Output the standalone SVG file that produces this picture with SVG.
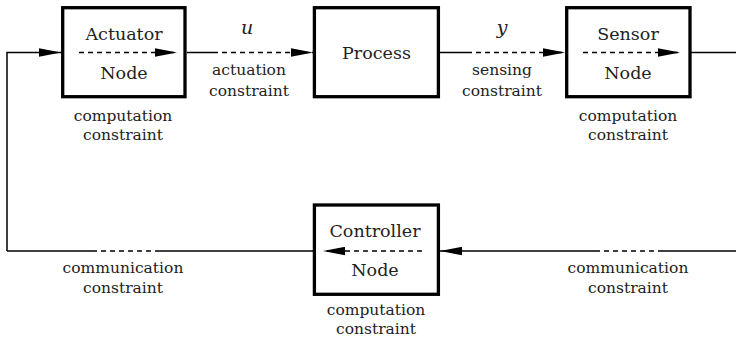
<svg xmlns="http://www.w3.org/2000/svg" width="736" height="343" viewBox="0 0 736 343" font-family="'DejaVu Serif', 'Liberation Serif', serif">
<style>
.box{fill:#fff;stroke:#000;stroke-width:3.3}
.ln{fill:none;stroke:#000;stroke-width:1.5}
.ds{fill:none;stroke:#000;stroke-width:1.5;stroke-dasharray:5 4}
.lb{font-size:17.5px;fill:#222;text-anchor:middle}
.sm{font-size:15.5px;fill:#222;text-anchor:middle}
.it{font-size:19px;font-style:italic;fill:#222;text-anchor:middle}
</style>
<defs>
<marker id="ah" viewBox="0 0 22 9" refX="22" refY="4.5" markerWidth="22" markerHeight="9" markerUnits="userSpaceOnUse" orient="auto">
<path d="M0,0.3 L22,4.5 L0,8.7 z" fill="#000"/>
</marker>
</defs>
<rect width="736" height="343" fill="#fff"/>
<g id="connectors">
<path class="ln" d="M7,251 L7,52.5 L61,52.5" marker-end="url(#ah)"/>
<path class="ln" d="M187,52.5 L213,52.5"/>
<path class="ds" d="M213,52.5 L313,52.5" marker-end="url(#ah)"/>
<path class="ln" d="M440,52.5 L467,52.5"/>
<path class="ds" d="M467,52.5 L565,52.5" marker-end="url(#ah)"/>
<path class="ln" d="M691,52.5 L736,52.5"/>
<path class="ln" d="M736,251 L663,251"/>
<path class="ds" d="M663,251 L597,251"/>
<path class="ln" d="M597,251 L440,251" marker-end="url(#ah)"/>
<path class="ln" d="M313,251 L160,251"/>
<path class="ds" d="M160,251 L92,251"/>
<path class="ln" d="M92,251 L7,251"/>
<text class="it" x="247" y="34">u</text>
<text class="sm" x="249" y="75">actuation</text>
<text class="sm" x="249" y="95.5">constraint</text>
<text class="it" x="502" y="34">y</text>
<text class="sm" x="502" y="75">sensing</text>
<text class="sm" x="502" y="95.5">constraint</text>
<text class="sm" x="123" y="272.5">communication</text>
<text class="sm" x="123" y="293">constraint</text>
<text class="sm" x="628" y="272.5">communication</text>
<text class="sm" x="628" y="293">constraint</text>
</g>
<g id="actuator">
<rect class="box" x="62.7" y="7.7" width="122.3" height="89"/>
<text class="lb" x="124" y="40">Actuator</text>
<path class="ds" d="M79,52.5 L177,52.5" marker-end="url(#ah)"/>
<text class="lb" x="124" y="79">Node</text>
<text class="sm" x="123" y="121">computation</text>
<text class="sm" x="123" y="140">constraint</text>
</g>
<g id="process">
<rect class="box" x="314.4" y="7.7" width="124" height="89"/>
<text class="lb" x="376.5" y="59">Process</text>
</g>
<g id="sensor">
<rect class="box" x="566.7" y="7.7" width="123.3" height="89"/>
<text class="lb" x="628" y="40">Sensor</text>
<path class="ds" d="M583,52.5 L680,52.5" marker-end="url(#ah)"/>
<text class="lb" x="628" y="79">Node</text>
<text class="sm" x="628" y="121">computation</text>
<text class="sm" x="628" y="140">constraint</text>
</g>
<g id="controller">
<rect class="box" x="314.4" y="205" width="124" height="89.3"/>
<text class="lb" x="375" y="237">Controller</text>
<path class="ds" d="M422,251 L323,251" marker-end="url(#ah)"/>
<text class="lb" x="375" y="276">Node</text>
<text class="sm" x="376" y="315">computation</text>
<text class="sm" x="376" y="334">constraint</text>
</g>
</svg>
